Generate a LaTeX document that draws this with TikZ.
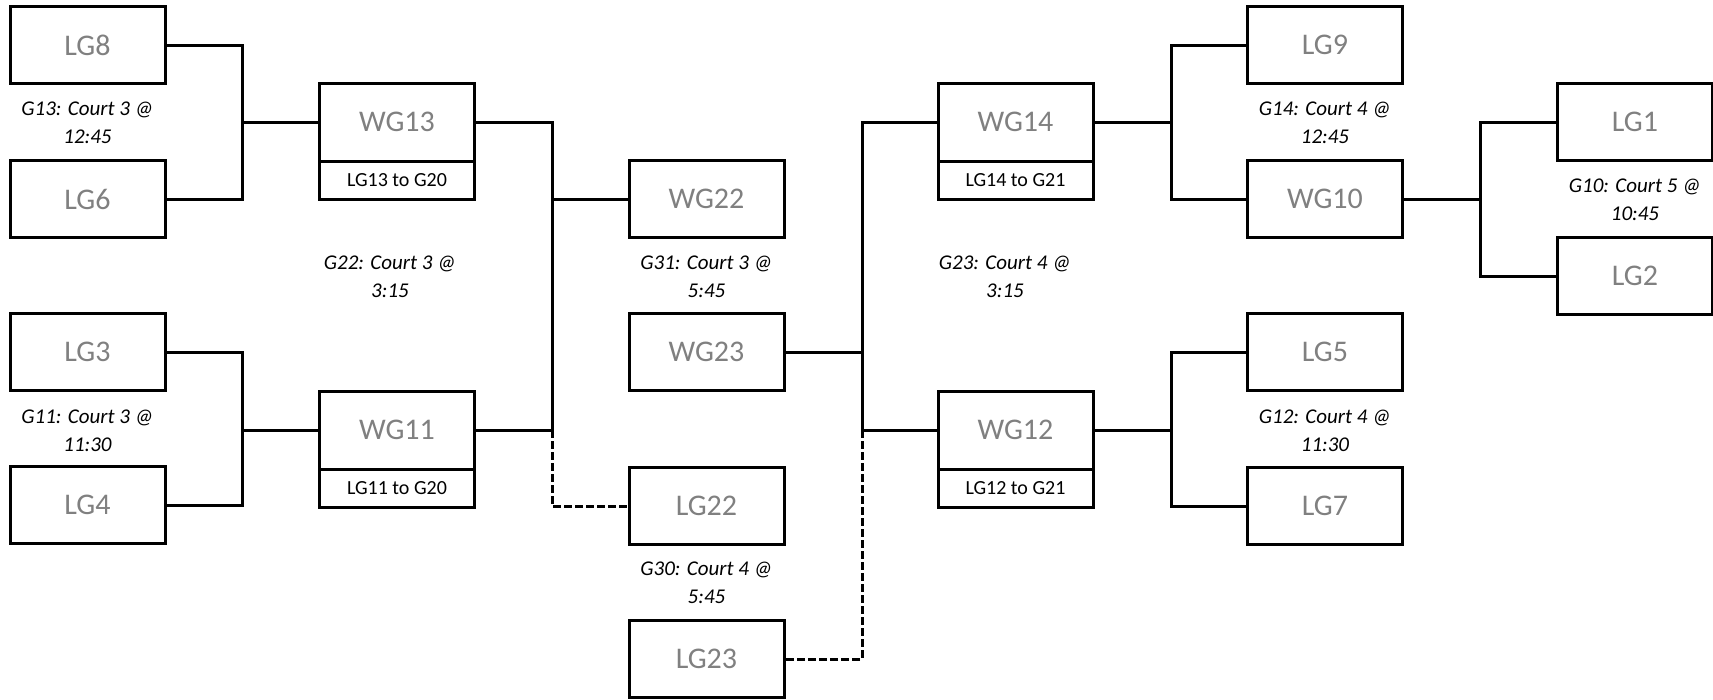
\documentclass[tikz,border=0pt]{standalone}
\usepackage{fontspec}
\setmainfont{Carlito}
\usepackage{tikz}
\usepackage{xcolor}
\definecolor{teamgray}{RGB}{128,128,128}

\begin{document}
\begin{tikzpicture}[x=1pt,y=-1pt,
  team/.style={draw,line width=3pt,minimum width=155pt,minimum height=77pt,inner sep=0pt,outer sep=0pt,text=teamgray,font=\fontsize{30}{36}\selectfont},
  sub/.style={draw,line width=3pt,minimum width=155pt,minimum height=38pt,inner sep=0pt,outer sep=0pt,font=\fontsize{20}{24}\selectfont},
  court/.style={align=center,font=\fontsize{21}{28}\selectfont\itshape},
  link/.style={line width=3pt},
  lose/.style={line width=3pt,dash pattern=on 8pt off 3pt}]
\useasboundingbox (0,0) rectangle (1713,699);

% first round, left
\node[team] (lg8) at (87.5,45) {LG8};
\node[team] (lg6) at (87.5,199) {LG6};
\node[team] (lg3) at (87.5,352) {LG3};
\node[team] (lg4) at (87.5,505) {LG4};
\node[court] (g13) at (87.5,123) {G13: Court 3 @\\12:45};
\node[court] (g11) at (87.5,431) {G11: Court 3 @\\11:30};

\node[team,minimum height=78pt] (wg13) at (397,122) {WG13};
\node[sub,anchor=north] (wg13s) at (wg13.south) {LG13 to G20};
\node[team,minimum height=78pt] (wg11) at (397,430) {WG11};
\node[sub,anchor=north] (wg11s) at (wg11.south) {LG11 to G20};
\node[court] (g22) at (390,277) {G22: Court 3 @\\3:15};

% middle
\node[team] (wg22) at (706.5,199) {WG22};
\node[team] (wg23) at (706.5,352) {WG23};
\node[team] (lg22) at (706.5,506) {LG22};
\node[team] (lg23) at (706.5,659) {LG23};
\node[court] (g31) at (706.5,277) {G31: Court 3 @\\5:45};
\node[court] (g30) at (706.5,583) {G30: Court 4 @\\5:45};

% right
\node[team,minimum height=78pt] (wg14) at (1015.5,122) {WG14};
\node[sub,anchor=north] (wg14s) at (wg14.south) {LG14 to G21};
\node[team,minimum height=78pt] (wg12) at (1015.5,430) {WG12};
\node[sub,anchor=north] (wg12s) at (wg12.south) {LG12 to G21};
\node[court] (g23) at (1005,277) {G23: Court 4 @\\3:15};

\node[team] (lg9) at (1325,45) {LG9};
\node[team] (wg10) at (1325,199) {WG10};
\node[team] (lg5) at (1325,352) {LG5};
\node[team] (lg7) at (1325,506) {LG7};
\node[court] (g14) at (1325,123) {G14: Court 4 @\\12:45};
\node[court] (g12) at (1325,431) {G12: Court 4 @\\11:30};

\node[team] (lg1) at (1635,122) {LG1};
\node[team] (lg2) at (1635,276) {LG2};
\node[court] (g10) at (1635,200) {G10: Court 5 @\\10:45};

% bracket joints
\coordinate (j13) at (242,122);
\coordinate (j11) at (242,430);
\coordinate (j22) at (552,199);
\coordinate (k22) at (552,430);
\coordinate (j23) at (862,352);
\coordinate (k23) at (862,430);
\coordinate (j14) at (1171,122);
\coordinate (j12) at (1171,430);
\coordinate (j10) at (1480,199);

\draw[link] (lg8.east) -| (j13) |- (lg6.east);
\draw[link] (j13) -- (wg13.west);
\draw[link] (lg3.east) -| (j11) |- (lg4.east);
\draw[link] (j11) -- (wg11.west);

\draw[link] (wg13.east) -| (j22) |- (wg11.east);
\draw[link] (j22) -- (wg22.west);
\draw[lose] (k22) |- (lg22.west);

\draw[link] (wg14.west) -| (j23) |- (wg12.west);
\draw[link] (j23) -- (wg23.east);
\draw[lose] (k23) |- (lg23.east);

\draw[link] (lg9.west) -| (j14) |- (wg10.west);
\draw[link] (j14) -- (wg14.east);
\draw[link] (lg5.west) -| (j12) |- (lg7.west);
\draw[link] (j12) -- (wg12.east);
\draw[link] (lg1.west) -| (j10) |- (lg2.west);
\draw[link] (j10) -- (wg10.east);
\end{tikzpicture}
\end{document}
